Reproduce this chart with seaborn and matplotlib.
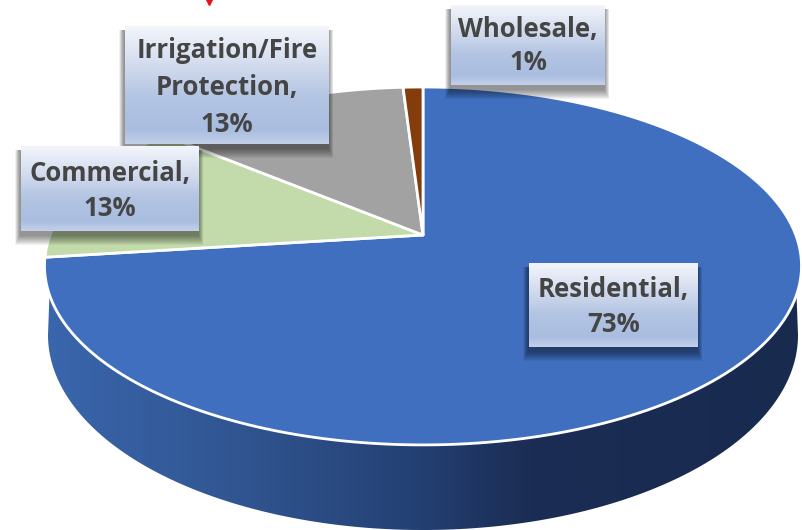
import seaborn as sns
import matplotlib.pyplot as plt
import numpy as np
from matplotlib.colors import LinearSegmentedColormap
from matplotlib.patches import Polygon, Rectangle

categories = ["Residential", "Commercial", "Irrigation/Fire\nProtection", "Wholesale"]
shares = [73, 13, 13, 1]
colors = ["#3f6fbe", "#c3dbab", "#a2a2a2", "#843c0c"]

# top face, perspective apex in pixels
cx, cy = 423, 235
rx, ry, k = 372.8, 173.6, 0.173
# bottom rim of the side wall
low_cy, low_rx, low_ry = 335, 375, 195

sns.set_theme(style="white")
plt.rcParams['font.family'] = ['Open Sans', 'DejaVu Sans']

fig = plt.figure(figsize=(8.02, 5.30), dpi=100)
ax = fig.add_axes([0, 0, 1, 1])

wedges, _ = ax.pie(shares, startangle=90, counterclock=False, colors=colors)
angles = [(w.theta1, w.theta2) for w in wedges]
for w in wedges:
    w.remove()
ax.set_aspect('auto')
ax.set_xlim(0, 802)
ax.set_ylim(530, 0)
ax.axis('off')


def project(theta):
    t = np.radians(theta)
    f = 1 / (1 + k * np.sin(t))
    return cx + rx * np.cos(t) * f, cy - ry * np.sin(t) * f


# side wall, front part of the rim only
t_rim = np.linspace(199, 341, 300)
x_top, y_top = project(t_rim)
t_low = np.linspace(180, 360, 300)
x_low = cx + low_rx * np.cos(np.radians(t_low))
y_low = low_cy - low_ry * np.sin(np.radians(t_low))
wall_pts = np.vstack([np.column_stack([x_top, y_top]),
                      np.column_stack([x_low, y_low])[::-1]])
wall = Polygon(wall_pts, closed=True, fc='none', ec='none')
ax.add_patch(wall)
wall_cmap = LinearSegmentedColormap.from_list(
    'wall', [(0, "#3a66ad"), (0.27, "#30548f"), (0.5, "#233f72"), (0.64, "#1b2d54"), (1, "#182a4e")])
im = ax.imshow(np.linspace(0, 1, 256).reshape(1, -1), cmap=wall_cmap, aspect='auto',
               extent=[45, 802, 530, 87], zorder=1)
im.set_clip_path(wall)

# top face
for (t1, t2), col in zip(angles, colors):
    ts = np.linspace(t1, t2, 200)
    xs, ys = project(ts)
    pts = np.vstack([[cx, cy], np.column_stack([xs, ys])])
    ax.add_patch(Polygon(pts, closed=True, fc=col, ec='white', lw=2, joinstyle='round', zorder=2))

# label boxes: left, right, top, bottom in pixels
label_boxes = [(529, 698, 263, 347), (21, 199, 146, 231), (125, 329, 26, 144), (451, 605, 5, 85)]
label_y = [[289, 325], [173, 209], [51, 87, 125], [29, 63]]
box_cmap = LinearSegmentedColormap.from_list(
    'box', [(0, "#f3f5fb"), (0.3, "#d5deef"), (0.6, "#b4c5e3"), (0.88, "#a9bde0"), (1, "#c3d0e9")])

for name, pct, (l, r, t, b), ys in zip(categories, shares, label_boxes, label_y):
    # soft shadow
    for grow in range(1, 11):
        ax.add_patch(Rectangle((l - 1 - grow / 2, t + 4), r - l + grow, b - t + grow,
                               fc='black', ec='none', alpha=0.05, zorder=3))
    ax.imshow(np.linspace(0, 1, 128).reshape(-1, 1), cmap=box_cmap, aspect='auto',
              extent=[l, r, b, t], zorder=4)
    lines = (name + ",\n" + str(pct) + "%").split("\n")
    for line, y in zip(lines, ys):
        ax.text((l + r) / 2, y, line, ha='center', va='center', fontsize=18.5,
                fontweight='bold', color="#454545", zorder=5)

# little red mark cut off at the top edge
ax.plot([209], [0], marker='v', ms=7, color="#e8101a", zorder=6, clip_on=True)

ax.set_xlim(0, 802)
ax.set_ylim(530, 0)
fig.savefig("out.png", dpi=100)
